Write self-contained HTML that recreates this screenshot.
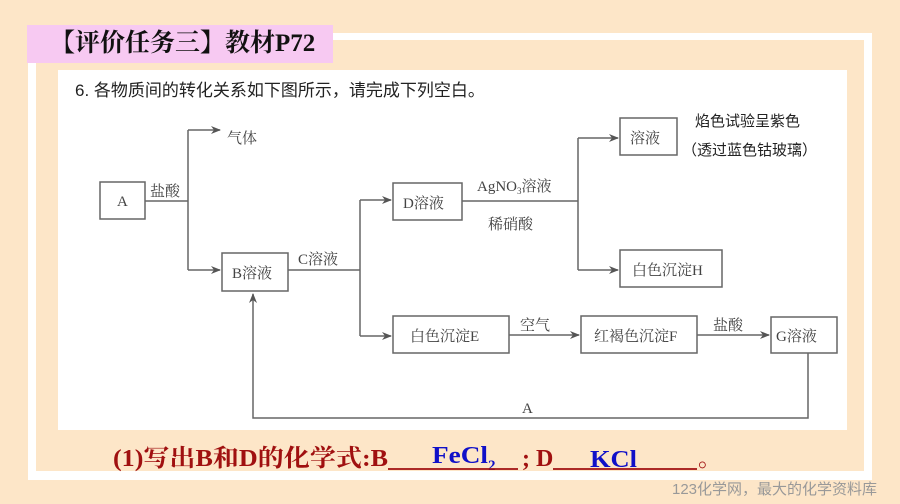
<!DOCTYPE html>
<html><head><meta charset="utf-8"><style>
html,body{margin:0;padding:0;}
body{width:900px;height:504px;background:#fde6c8;position:relative;overflow:hidden;font-family:"Liberation Serif","Noto Serif CJK SC",serif;}
.abs{position:absolute;}
</style></head><body>
<div class="abs" style="left:28px;top:33px;width:844px;height:447px;background:#fff;"></div>
<div class="abs" style="left:36px;top:40px;width:828px;height:431px;background:#fde6c8;"></div>
<div class="abs" style="left:27px;top:25px;width:306px;height:38px;background:#f7c9f2;"></div>
<div class="abs" style="left:50px;top:27px;font-size:25px;font-weight:bold;color:#111;line-height:34px;font-family:'Liberation Serif','Noto Serif CJK SC',serif;">【评价任务三】教材P72</div>
<div class="abs" style="left:58px;top:70px;width:789px;height:360px;background:#fff;"></div>
<svg class="abs" style="left:0;top:0" width="900" height="504" viewBox="0 0 900 504">
<defs><marker id="ar" markerWidth="10" markerHeight="8" refX="9" refY="4" orient="auto" markerUnits="userSpaceOnUse"><path d="M0,0 L10,4 L0,8 L3,4 z" fill="#555"/></marker></defs>
<g fill="#555" font-family="Liberation Sans,Noto Sans CJK SC,sans-serif" font-size="16">
<text x="75" y="96" fill="#222" font-size="17">6. 各物质间的转化关系如下图所示，请完成下列空白。</text>
</g>
<g fill="none" stroke="#666" stroke-width="1.5">
<rect x="100" y="182" width="45" height="37"/>
<rect x="222" y="253" width="66" height="38"/>
<rect x="393" y="183" width="69" height="37"/>
<rect x="620" y="118" width="57" height="37"/>
<rect x="620" y="250" width="102" height="37"/>
<rect x="393" y="316" width="116" height="37"/>
<rect x="581" y="316" width="116" height="37"/>
<rect x="771" y="317" width="66" height="36"/>
<path d="M145,201 H188 M188,130 V270"/>
<path d="M188,130 H220" marker-end="url(#ar)"/>
<path d="M188,270 H220" marker-end="url(#ar)"/>
<path d="M288,270 H360 M360,200 V336"/>
<path d="M360,200 H391" marker-end="url(#ar)"/>
<path d="M360,336 H391" marker-end="url(#ar)"/>
<path d="M462,201 H578 M578,138 V270"/>
<path d="M578,138 H618" marker-end="url(#ar)"/>
<path d="M578,270 H618" marker-end="url(#ar)"/>
<path d="M509,335 H579" marker-end="url(#ar)"/>
<path d="M697,335 H769" marker-end="url(#ar)"/>
<path d="M808,353 V418 H253 V294" marker-end="url(#ar)"/>
</g>
<g fill="#444" font-family="Liberation Serif,Noto Serif CJK SC,serif" font-size="15">
<text x="117" y="206">A</text>
<text x="150" y="196">盐酸</text>
<text x="227" y="143">气体</text>
<text x="232" y="278">B溶液</text>
<text x="298" y="264">C溶液</text>
<text x="403" y="208">D溶液</text>
<text x="477" y="191">AgNO<tspan font-size="9" dy="3">3</tspan><tspan dy="-3">溶液</tspan></text>
<text x="488" y="229">稀硝酸</text>
<text x="630" y="143">溶液</text>
<text x="632" y="275">白色沉淀H</text>
<text x="410" y="341">白色沉淀E</text>
<text x="520" y="330">空气</text>
<text x="594" y="341">红褐色沉淀F</text>
<text x="713" y="330">盐酸</text>
<text x="776" y="341">G溶液</text>
<text x="522" y="413">A</text>
<text x="695" y="126" fill="#222" font-family="Liberation Sans,Noto Sans CJK SC,sans-serif">焰色试验呈紫色</text>
<text x="682" y="155" fill="#222" font-family="Liberation Sans,Noto Sans CJK SC,sans-serif">（透过蓝色钴玻璃）</text>
</g>
<g font-family="Liberation Serif,Noto Serif CJK SC,serif" font-size="24" font-weight="bold">
<text x="113" y="466" fill="#a01010" textLength="275" lengthAdjust="spacingAndGlyphs">(1)写出B和D的化学式:B</text>
<text x="522" y="466" fill="#a01010">; D</text>
<text x="698" y="466" fill="#a01010" font-weight="normal">。</text>
<text x="432" y="463" fill="#1010c8" textLength="56" lengthAdjust="spacingAndGlyphs">FeCl</text>
<text x="488" y="470" fill="#1010c8" font-size="15">2</text>
<text x="590" y="467" fill="#1010c8" textLength="47" lengthAdjust="spacingAndGlyphs">KCl</text>
</g>
<path d="M388,469 H518 M553,469 H697" stroke="#a01010" stroke-width="1.8"/>
<text x="672" y="494" fill="#999" font-size="15" font-family="Liberation Sans,Noto Sans CJK SC,sans-serif">123化学网，最大的化学资料库</text>
</svg>
</body></html>
